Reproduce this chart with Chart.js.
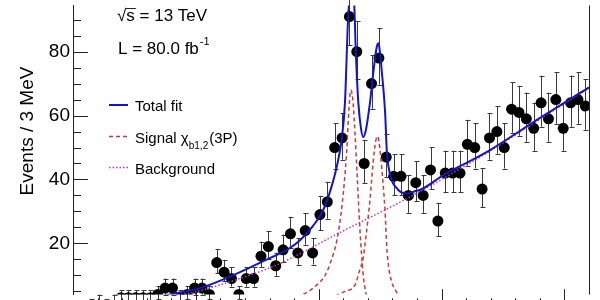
<!DOCTYPE html>
<html>
<head>
<meta charset="utf-8">
<script src="https://cdn.jsdelivr.net/npm/chart.js@4.4.1/dist/chart.umd.min.js"></script>
<style>
  html, body { margin: 0; padding: 0; background: #fff; }
</style>
</head>
<body>
<canvas id="chart" width="600" height="300"></canvas>
<script>
// histogram: 3 MeV bins starting at 10400 MeV
const massMin = 10400;
const massMax = 10610;
const binWidth = 3;
const counts = [
  0, 0, 1, 2, 1, 2, 3, 3, 3, 3,
  3, 4, 6, 6, 3, 4, 6, 6, 4, 14,
  11, 9, 4, 9, 9, 16, 19, 13, 18, 23,
  17, 24, 17, 29, 33, 50, 53, 91, 80, 45,
  70, 78, 47, 41, 41, 35, 39, 35, 43, 27,
  42, 42, 42, 51, 50, 37, 53, 55, 50, 62,
  61, 59, 56, 64, 59, 65, 56, 64, 65, 63
];

// total fit (mass in MeV, events)
const fitX = [10419, 10431, 10439.5, 10451.7, 10465.1, 10479, 10487.1, 10492.4, 10497.7, 10501.7,
  10504.6, 10507.4, 10509.4, 10510.7, 10512.0, 10513.4, 10514.4, 10515.1, 10516.1, 10517.2,
  10518.1, 10519.2, 10520.9, 10522.3, 10523.6, 10524.3, 10524.9, 10525.6, 10527.0, 10527.7,
  10528.4, 10529.7, 10531.5, 10533.1, 10535.9, 10539.2, 10542.2, 10551.4, 10560.2, 10569.7,
  10590.1, 10610];
const fitY = [1.0, 2.6, 4.0, 6.0, 10.0, 15.0, 18.0, 21.0, 25.5, 30.2,
  36.2, 44.2, 52.8, 64.3, 91, 101, 96, 80, 64.3, 56,
  53.3, 55.5, 64.3, 74, 81.4, 82.6, 80, 74.4, 61.3, 49.2,
  44, 39.7, 37.5, 36.2, 35.6, 36.3, 37.1, 41.7, 45.2, 49.2,
  59.3, 68.8];

// signal chi_b1(3P)
const sig1X = [10460, 10475, 10484.2, 10488.3, 10493.6, 10498.5, 10502.6, 10505.0, 10507.4, 10509.5,
  10511.4, 10512.3, 10513.1, 10514.0, 10514.8, 10515.6, 10516.8, 10518.0, 10519.2, 10520.9, 10522.9, 10530];
const sig1Y = [1.0, 1.6, 2.2, 2.8, 4, 6.5, 10, 14.5, 21, 32,
  49, 62, 68, 64, 54, 42, 24, 11, 4.5, 1.5, 0.3, 0];

// signal chi_b2(3P)
const sig2X = [10470, 10490, 10504.6, 10510.7, 10514.8, 10516.8, 10518.0, 10519.2, 10520.9, 10522.1,
  10523.2, 10523.9, 10524.5, 10525.6, 10527.0, 10527.7, 10528.4, 10529.7, 10531.5, 10533.1,
  10535.9, 10539.2, 10545];
const sig2Y = [1.0, 2.0, 3, 5, 7, 12, 15, 22, 34, 45,
  52, 53.5, 52, 44, 30, 19, 13, 8, 5, 3.2,
  1.3, 0.4, 0];

// background
const bkgX = [10420, 10430, 10439.5, 10451.7, 10465.1, 10482.2, 10491.2, 10507.4, 10533.1, 10551.4, 10569.7, 10590.1, 10610];
const bkgY = [1.0, 2.0, 3.3, 5.2, 8.3, 13.0, 16.3, 22.9, 32.9, 40.6, 48.9, 58.9, 68.6];

const yTicks = [20, 40, 60, 80];
const yTitle = 'Events / 3 MeV';

const blue = '#1414c8';
const red = '#d03838';
const magenta = '#c830c8';
const font = 'Liberation Sans, Arial, Helvetica, sans-serif';

function pts(xs, ys) {
  return xs.map((x, i) => ({ x: x, y: ys[i] }));
}

const dataPts = counts.map((n, i) => ({ x: massMin + binWidth * (i + 0.5), y: n }));

// poisson-like error bars on the data
const errorBars = {
  id: 'errorBars',
  beforeDatasetsDraw(chart) {
    const ctx = chart.ctx;
    const xs = chart.scales.x, ys = chart.scales.y;
    ctx.save();
    ctx.strokeStyle = '#3a3a3a';
    ctx.lineWidth = 1;
    counts.forEach((n, i) => {
      const r = Math.sqrt(n + 0.25);
      const px = Math.round(xs.getPixelForValue(massMin + binWidth * (i + 0.5))) + 0.5;
      const top = ys.getPixelForValue(n + r + 0.5);
      const bot = ys.getPixelForValue(n - r + 0.5);
      ctx.beginPath();
      ctx.moveTo(px, top); ctx.lineTo(px, bot);
      ctx.moveTo(px - 2, Math.round(top) + 0.5); ctx.lineTo(px + 3, Math.round(top) + 0.5);
      ctx.moveTo(px - 2, Math.round(bot) + 0.5); ctx.lineTo(px + 3, Math.round(bot) + 0.5);
      ctx.stroke();
    });
    ctx.restore();
  }
};

// ROOT style frame, inward ticks, title, legend and labels
const decorations = {
  id: 'decorations',
  afterDraw(chart) {
    const ctx = chart.ctx;
    const xs = chart.scales.x, ys = chart.scales.y;
    const area = chart.chartArea;
    ctx.save();
    ctx.strokeStyle = '#222';
    ctx.lineWidth = 1;
    ctx.beginPath();
    for (let v = 5; v <= 90; v += 5) {
      const py = Math.round(ys.getPixelForValue(v)) + 0.5;
      const len = v % 20 === 0 ? 15 : 8;
      ctx.moveTo(area.left, py); ctx.lineTo(area.left + len, py);
    }
    const y0 = ys.getPixelForValue(0);
    for (let m = 10410; m < massMax; m += 10) {
      const px = Math.round(xs.getPixelForValue(m)) + 0.5;
      const len = m % 50 === 0 ? 18 : 9;
      ctx.moveTo(px, y0); ctx.lineTo(px, y0 - len);
    }
    // right frame
    const rx = Math.round(area.right) + 0.5;
    ctx.moveTo(rx, area.top); ctx.lineTo(rx, area.bottom);
    ctx.stroke();

    ctx.fillStyle = '#000';
    // axis title
    ctx.save();
    ctx.translate(28, 131);
    ctx.rotate(-Math.PI / 2);
    ctx.font = '19px ' + font;
    ctx.textAlign = 'center';
    ctx.textBaseline = 'middle';
    ctx.fillText(yTitle, 0, 0);
    ctx.restore();

    // energy and luminosity
    ctx.textAlign = 'left';
    ctx.textBaseline = 'alphabetic';
    ctx.font = '17px ' + font;
    ctx.fillText('\u221As = 13 TeV', 117, 21);
    const rw = ctx.measureText('\u221A').width;
    const sw = ctx.measureText('\u221As').width;
    ctx.beginPath();
    ctx.moveTo(117 + rw - 1, 8.5); ctx.lineTo(117 + sw + 1, 8.5);
    ctx.stroke();
    ctx.fillText('L = 80.0 fb', 118, 54);
    const w = ctx.measureText('L = 80.0 fb').width;
    ctx.font = '11px ' + font;
    ctx.fillText('-1', 118 + w + 1, 45);

    // legend
    ctx.lineWidth = 2;
    ctx.strokeStyle = blue;
    ctx.beginPath(); ctx.moveTo(109, 105); ctx.lineTo(128, 105); ctx.stroke();
    ctx.lineWidth = 1.5;
    ctx.strokeStyle = red;
    ctx.setLineDash([4, 3]);
    ctx.beginPath(); ctx.moveTo(109, 136.5); ctx.lineTo(128, 136.5); ctx.stroke();
    ctx.strokeStyle = magenta;
    ctx.setLineDash([1.5, 2]);
    ctx.beginPath(); ctx.moveTo(109, 167.5); ctx.lineTo(128, 167.5); ctx.stroke();
    ctx.setLineDash([]);

    ctx.font = '15px ' + font;
    ctx.fillText('Total fit', 135, 111);
    ctx.fillText('Signal \u03C7', 135, 143);
    let sx = 135 + ctx.measureText('Signal \u03C7').width;
    ctx.font = '10px ' + font;
    ctx.fillText('b1,2', sx, 149);
    sx += ctx.measureText('b1,2').width + 1;
    ctx.font = '15px ' + font;
    ctx.fillText('(3P)', sx, 143);
    ctx.fillText('Background', 135, 174);
    ctx.restore();
  }
};

const lineBase = { type: 'line', pointRadius: 0, fill: false, cubicInterpolationMode: 'monotone' };

new Chart(document.getElementById('chart'), {
  type: 'line',
  data: {
    datasets: [
      Object.assign({}, lineBase, { label: 'Total fit', data: pts(fitX, fitY), borderColor: blue, borderWidth: 2, order: 0 }),
      Object.assign({}, lineBase, { label: 'Signal chi_b1', data: pts(sig1X, sig1Y), borderColor: red, borderWidth: 1.5, borderDash: [4, 3], order: 1 }),
      Object.assign({}, lineBase, { label: 'Signal chi_b2', data: pts(sig2X, sig2Y), borderColor: red, borderWidth: 1.5, borderDash: [4, 3], order: 1 }),
      Object.assign({}, lineBase, { label: 'Background', data: pts(bkgX, bkgY), borderColor: magenta, borderWidth: 1.5, borderDash: [1.5, 2], order: 2 }),
      { type: 'line', label: 'Data', data: dataPts, showLine: false, pointRadius: 5.5, pointBackgroundColor: '#000', pointBorderWidth: 0, order: 3 }
    ]
  },
  options: {
    responsive: false,
    animation: false,
    layout: { padding: { left: 0, right: 11, top: 0, bottom: 0 } },
    plugins: { legend: { display: false }, tooltip: { enabled: false } },
    scales: {
      x: { type: 'linear', min: massMin, max: massMax, display: false },
      y: {
        min: 4.0,
        max: 94.45,
        afterFit: (s) => { s.width = 73; s.paddingTop = 0; s.paddingBottom = 0; },
        afterBuildTicks: (s) => { s.ticks = yTicks.map(v => ({ value: v })); },
        grid: { display: false, drawTicks: false },
        border: { display: true, color: '#222', width: 1 },
        ticks: { padding: 3, color: '#000', font: { family: font, size: 19 } }
      }
    }
  },
  plugins: [errorBars, decorations]
});
</script>
</body>
</html>
